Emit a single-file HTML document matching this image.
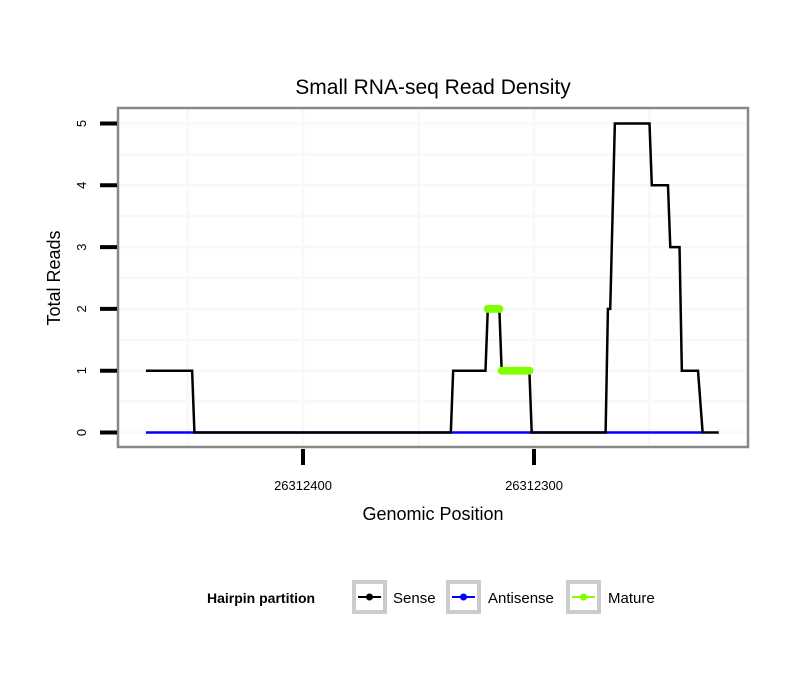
<!DOCTYPE html>
<html><head><meta charset="utf-8"><style>
body{margin:0;background:#fff;font-family:"Liberation Sans",sans-serif}
</style></head><body>
<svg id="chart" width="810" height="690" xmlns="http://www.w3.org/2000/svg" font-family="Liberation Sans, sans-serif">
<rect width="810" height="690" fill="#fff"/>
<text x="433" y="94" text-anchor="middle" font-size="21">Small RNA-seq Read Density</text>
<g id="grid"></g>
<g id="series"></g>
<rect x="118" y="108" width="630" height="339" fill="none" stroke="#888" stroke-width="2.5"/>
<g id="axes"></g>
<text x="433" y="520" text-anchor="middle" font-size="18">Genomic Position</text>
<text transform="translate(60,278) rotate(-90)" text-anchor="middle" font-size="18">Total Reads</text>
<g>
<text x="207" y="603" font-size="14" font-weight="bold">Hairpin partition</text>
<g>
<rect x="354" y="582" width="31" height="30" fill="#fff" stroke="#ccc" stroke-width="4"/>
<line x1="358" y1="597" x2="381" y2="597" stroke="#000" stroke-width="2"/><circle cx="369.5" cy="597" r="3.5" fill="#000"/>
<text x="393" y="603" font-size="15">Sense</text></g>
<g>
<rect x="448" y="582" width="31" height="30" fill="#fff" stroke="#ccc" stroke-width="4"/>
<line x1="452" y1="597" x2="475" y2="597" stroke="#00f" stroke-width="2"/><circle cx="463.5" cy="597" r="3.5" fill="#00f"/>
<text x="488" y="603" font-size="15">Antisense</text></g>
<g>
<rect x="568" y="582" width="31" height="30" fill="#fff" stroke="#ccc" stroke-width="4"/>
<line x1="572" y1="597" x2="595" y2="597" stroke="#7fff00" stroke-width="2"/><circle cx="583.5" cy="597" r="3.5" fill="#7fff00"/>
<text x="608" y="603" font-size="15">Mature</text></g>
</g>
</svg>
<script>
const senseX=[26312468,26312448,26312447,26312336,26312335,26312321,26312320,26312315,26312314,26312302,26312301,26312269,26312268,26312267,26312265,26312250,26312249,26312242,26312241,26312237,26312236,26312229,26312227,26312220];
const senseY=[1,1,0,0,1,1,2,2,1,1,0,0,2,2,5,5,4,4,3,3,1,1,0,0];
const antisenseX=[26312468,26312227];
const antisenseY=[0,0];
const matureX=[26312320,26312319,26312318,26312317,26312316,26312315,26312314,26312313,26312312,26312311,26312310,26312309,26312308,26312307,26312306,26312305,26312304,26312303,26312302];
const matureY=[2,2,2,2,2,2,1,1,1,1,1,1,1,1,1,1,1,1,1];
const xTicks=[26312400,26312300];
const xTickLabels=["26312400","26312300"];
const yTicks=[0,1,2,3,4,5];
const NS="http://www.w3.org/2000/svg";
function sx(p){return 303+(26312400-p)*2.31;}
function sy(v){return 432.5-v*61.8;}
function mk(tag,attrs,parent){const e=document.createElementNS(NS,tag);for(const k in attrs)e.setAttribute(k,attrs[k]);parent.appendChild(e);return e;}
const grid=document.getElementById('grid'),ser=document.getElementById('series'),axes=document.getElementById('axes');
for(let v=0;v<=5;v+=0.5){const l=mk('line',{x1:119,x2:747,y1:sy(v),y2:sy(v),stroke:'#f8f8f8','stroke-width':2.5},grid);

}
[26312450,26312400,26312350,26312300,26312250].forEach(p=>{const l=mk('line',{x1:sx(p),x2:sx(p),y1:109,y2:446,stroke:'#f8f8f8','stroke-width':2.5},grid);

});
function pathD(xs,ys){return xs.map((x,i)=>(i?'L':'M')+sx(x)+','+sy(ys[i])).join(' ');}
const ap=mk('path',{d:pathD(antisenseX,antisenseY),fill:'none',stroke:'#00f','stroke-width':2.5},ser);


const sp=mk('path',{d:pathD(senseX,senseY),fill:'none',stroke:'#000','stroke-width':2.5},ser);


matureX.forEach((x,i)=>{const c=mk('circle',{cx:sx(x),cy:sy(matureY[i]),r:4,fill:'#7fff00'},ser);

});
yTicks.forEach(v=>{const l=mk('line',{x1:100,x2:117,y1:sy(v),y2:sy(v),stroke:'#000','stroke-width':4},axes);


const t=mk('text',{transform:`translate(86,${sy(v)}) rotate(-90)`,'text-anchor':'middle','font-size':13},axes);t.textContent=v;

});
xTicks.forEach((p,i)=>{const l=mk('line',{x1:sx(p),x2:sx(p),y1:449,y2:465,stroke:'#000','stroke-width':4},axes);


const t=mk('text',{x:sx(p),y:490,'text-anchor':'middle','font-size':13},axes);t.textContent=xTickLabels[i];

});
</script>
</body></html>
